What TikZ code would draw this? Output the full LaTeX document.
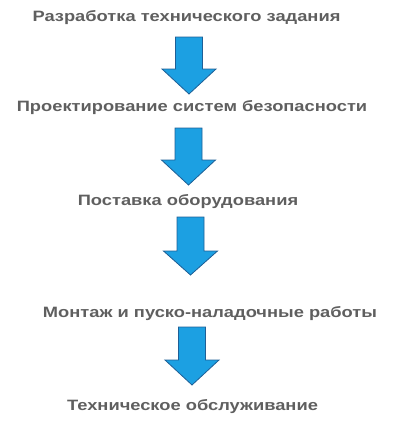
\documentclass[tikz,border=0pt]{standalone}
\usepackage{fontspec}
\setmainfont{Liberation Sans}
\definecolor{txtgray}{RGB}{95,95,95}
\definecolor{arrfill}{RGB}{28,160,226}
\definecolor{arrline}{RGB}{30,95,150}
\tikzset{
  lbl/.style={font=\fontsize{15}{18}\selectfont\bfseries, text=txtgray, inner sep=0pt, anchor=base},
  downarrow/.style={fill=arrfill, draw=arrline, line width=0.8pt, line join=miter}
}
\newcommand{\wide}[1]{\scalebox{1.22}[1]{#1}}
\newcommand{\myarrow}[4]{% #1 center x, #2 top y, #3 shoulder y, #4 tip y
  \draw[downarrow] (#1-13.5,#2) -- (#1+13.5,#2) -- (#1+13.5,#3) -- (#1+27,#3) -- (#1,#4) -- (#1-27,#3) -- (#1-13.5,#3) -- cycle;}
\begin{document}
\begin{tikzpicture}[x=1pt,y=-1pt]
\useasboundingbox (0,0) rectangle (399,426);
\node[lbl] (t1) at (186.5,21) {\wide{Разработка технического задания}};
\node[lbl] (t2) at (192,111) {\wide{Проектирование систем безопасности}};
\node[lbl] (t3) at (188,205) {\wide{Поставка оборудования}};
\node[lbl] (t4) at (210,317) {\wide{Монтаж и пуско-наладочные работы}};
\node[lbl] (t5) at (192.5,410) {\wide{Техническое обслуживание}};
\myarrow{189}{37}{69}{94}
\myarrow{188.5}{128}{160}{185}
\myarrow{190.5}{217}{251}{275}
\myarrow{192}{327}{360}{385}
\end{tikzpicture}
\end{document}
